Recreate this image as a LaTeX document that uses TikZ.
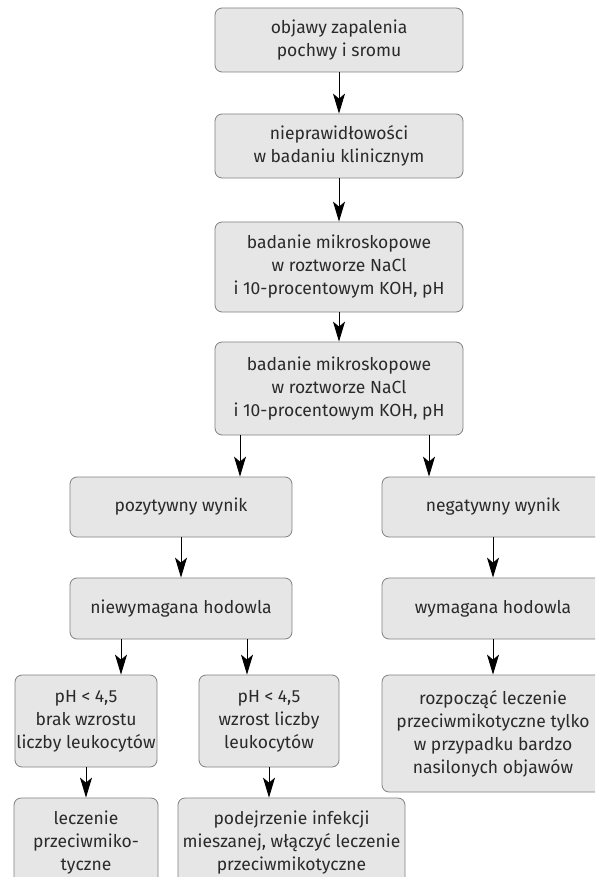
\documentclass[tikz,border=0pt]{standalone}
\usepackage{fontspec}
\setmainfont{Fira Sans}
\usetikzlibrary{arrows.meta}
\definecolor{boxfill}{HTML}{E6E6E7}
\definecolor{boxline}{HTML}{808080}
\definecolor{boxtext}{HTML}{2A2A2A}
\begin{document}
\begin{tikzpicture}[x=1pt,y=-1pt,
        box/.style={draw=boxline,fill=boxfill,rounded corners=7pt,line width=0.8pt,
            align=center,text=boxtext,inner sep=0pt,font=\fontsize{17.5}{23}\selectfont},
        arr/.style={-{Stealth[length=20pt,width=12pt,inset=5pt]},line width=0.9pt}]
        \useasboundingbox (0,0) rectangle (595,877);
        \clip (0,0) rectangle (595,877);
        % main column
        \node [box,minimum width=248pt,minimum height=64pt] (objawy) at (339,40) {objawy zapalenia\\pochwy i sromu};
        \node [box,minimum width=248pt,minimum height=64pt] (nieprawid) at (339,146) {nieprawidłowości\\w badaniu klinicznym};
        \node [box,minimum width=248pt,minimum height=90pt] (badanieA) at (339,267) {badanie mikroskopowe\\w roztworze NaCl\\i 10-procentowym KOH, pH};
        \node [box,minimum width=248pt,minimum height=93pt] (badanieB) at (339,388.5) {badanie mikroskopowe\\w roztworze NaCl\\i 10-procentowym KOH, pH};
        % two branches
        \node [box,minimum width=222pt,minimum height=60pt] (pozyt) at (181,507) {pozytywny wynik};
        \node [box,minimum width=222pt,minimum height=60pt] (negat) at (493,507) {negatywny wynik};
        \node [box,minimum width=222pt,minimum height=61pt] (niewym) at (181,608.5) {niewymagana hodowla};
        \node [box,minimum width=222pt,minimum height=61pt] (wym) at (493,608.5) {wymagana hodowla};
        \node [box,minimum width=142pt,minimum height=92pt] (phA) at (86,721) {pH < 4,5\\brak wzrostu\\liczby leukocytów};
        \node [box,minimum width=140pt,minimum height=92pt] (phB) at (269,721) {pH < 4,5\\wzrost liczby\\leukocytów};
        \node [box,minimum width=222pt,minimum height=117pt] (rozpocz) at (493,733.5) {rozpocząć leczenie\\przeciwmikotyczne tylko\\w przypadku bardzo\\nasilonych objawów};
        \node [box,minimum width=144pt,minimum height=90pt] (leczenie) at (86,843) {leczenie\\przeciwmiko-\\tyczne};
        \node [box,minimum width=227pt,minimum height=90pt] (podejrz) at (291.5,843) {podejrzenie infekcji\\mieszanej, włączyć leczenie\\przeciwmikotyczne};
        % arrows
        \draw [arr] (objawy) -- (nieprawid);
        \draw [arr] (nieprawid) -- (badanieA);
        \draw [arr] (badanieA) -- (badanieB);
        \draw [arr] ([xshift=59pt]pozyt.north |- badanieB.south) -- ([xshift=59pt]pozyt.north);
        \draw [arr] ([xshift=-64pt]negat.north |- badanieB.south) -- ([xshift=-64pt]negat.north);
        \draw [arr] (pozyt) -- (niewym);
        \draw [arr] (negat) -- (wym);
        \draw [arr] ([xshift=35pt]phA.north |- niewym.south) -- ([xshift=35pt]phA.north);
        \draw [arr] ([xshift=-22pt]phB.north |- niewym.south) -- ([xshift=-22pt]phB.north);
        \draw [arr] (wym.south) -- (wym.south |- rozpocz.north);
        \draw [arr] (phA.south) -- (phA.south |- leczenie.north);
        \draw [arr] (phB.south) -- (phB.south |- podejrz.north);
    \end{tikzpicture}
\end{document}
